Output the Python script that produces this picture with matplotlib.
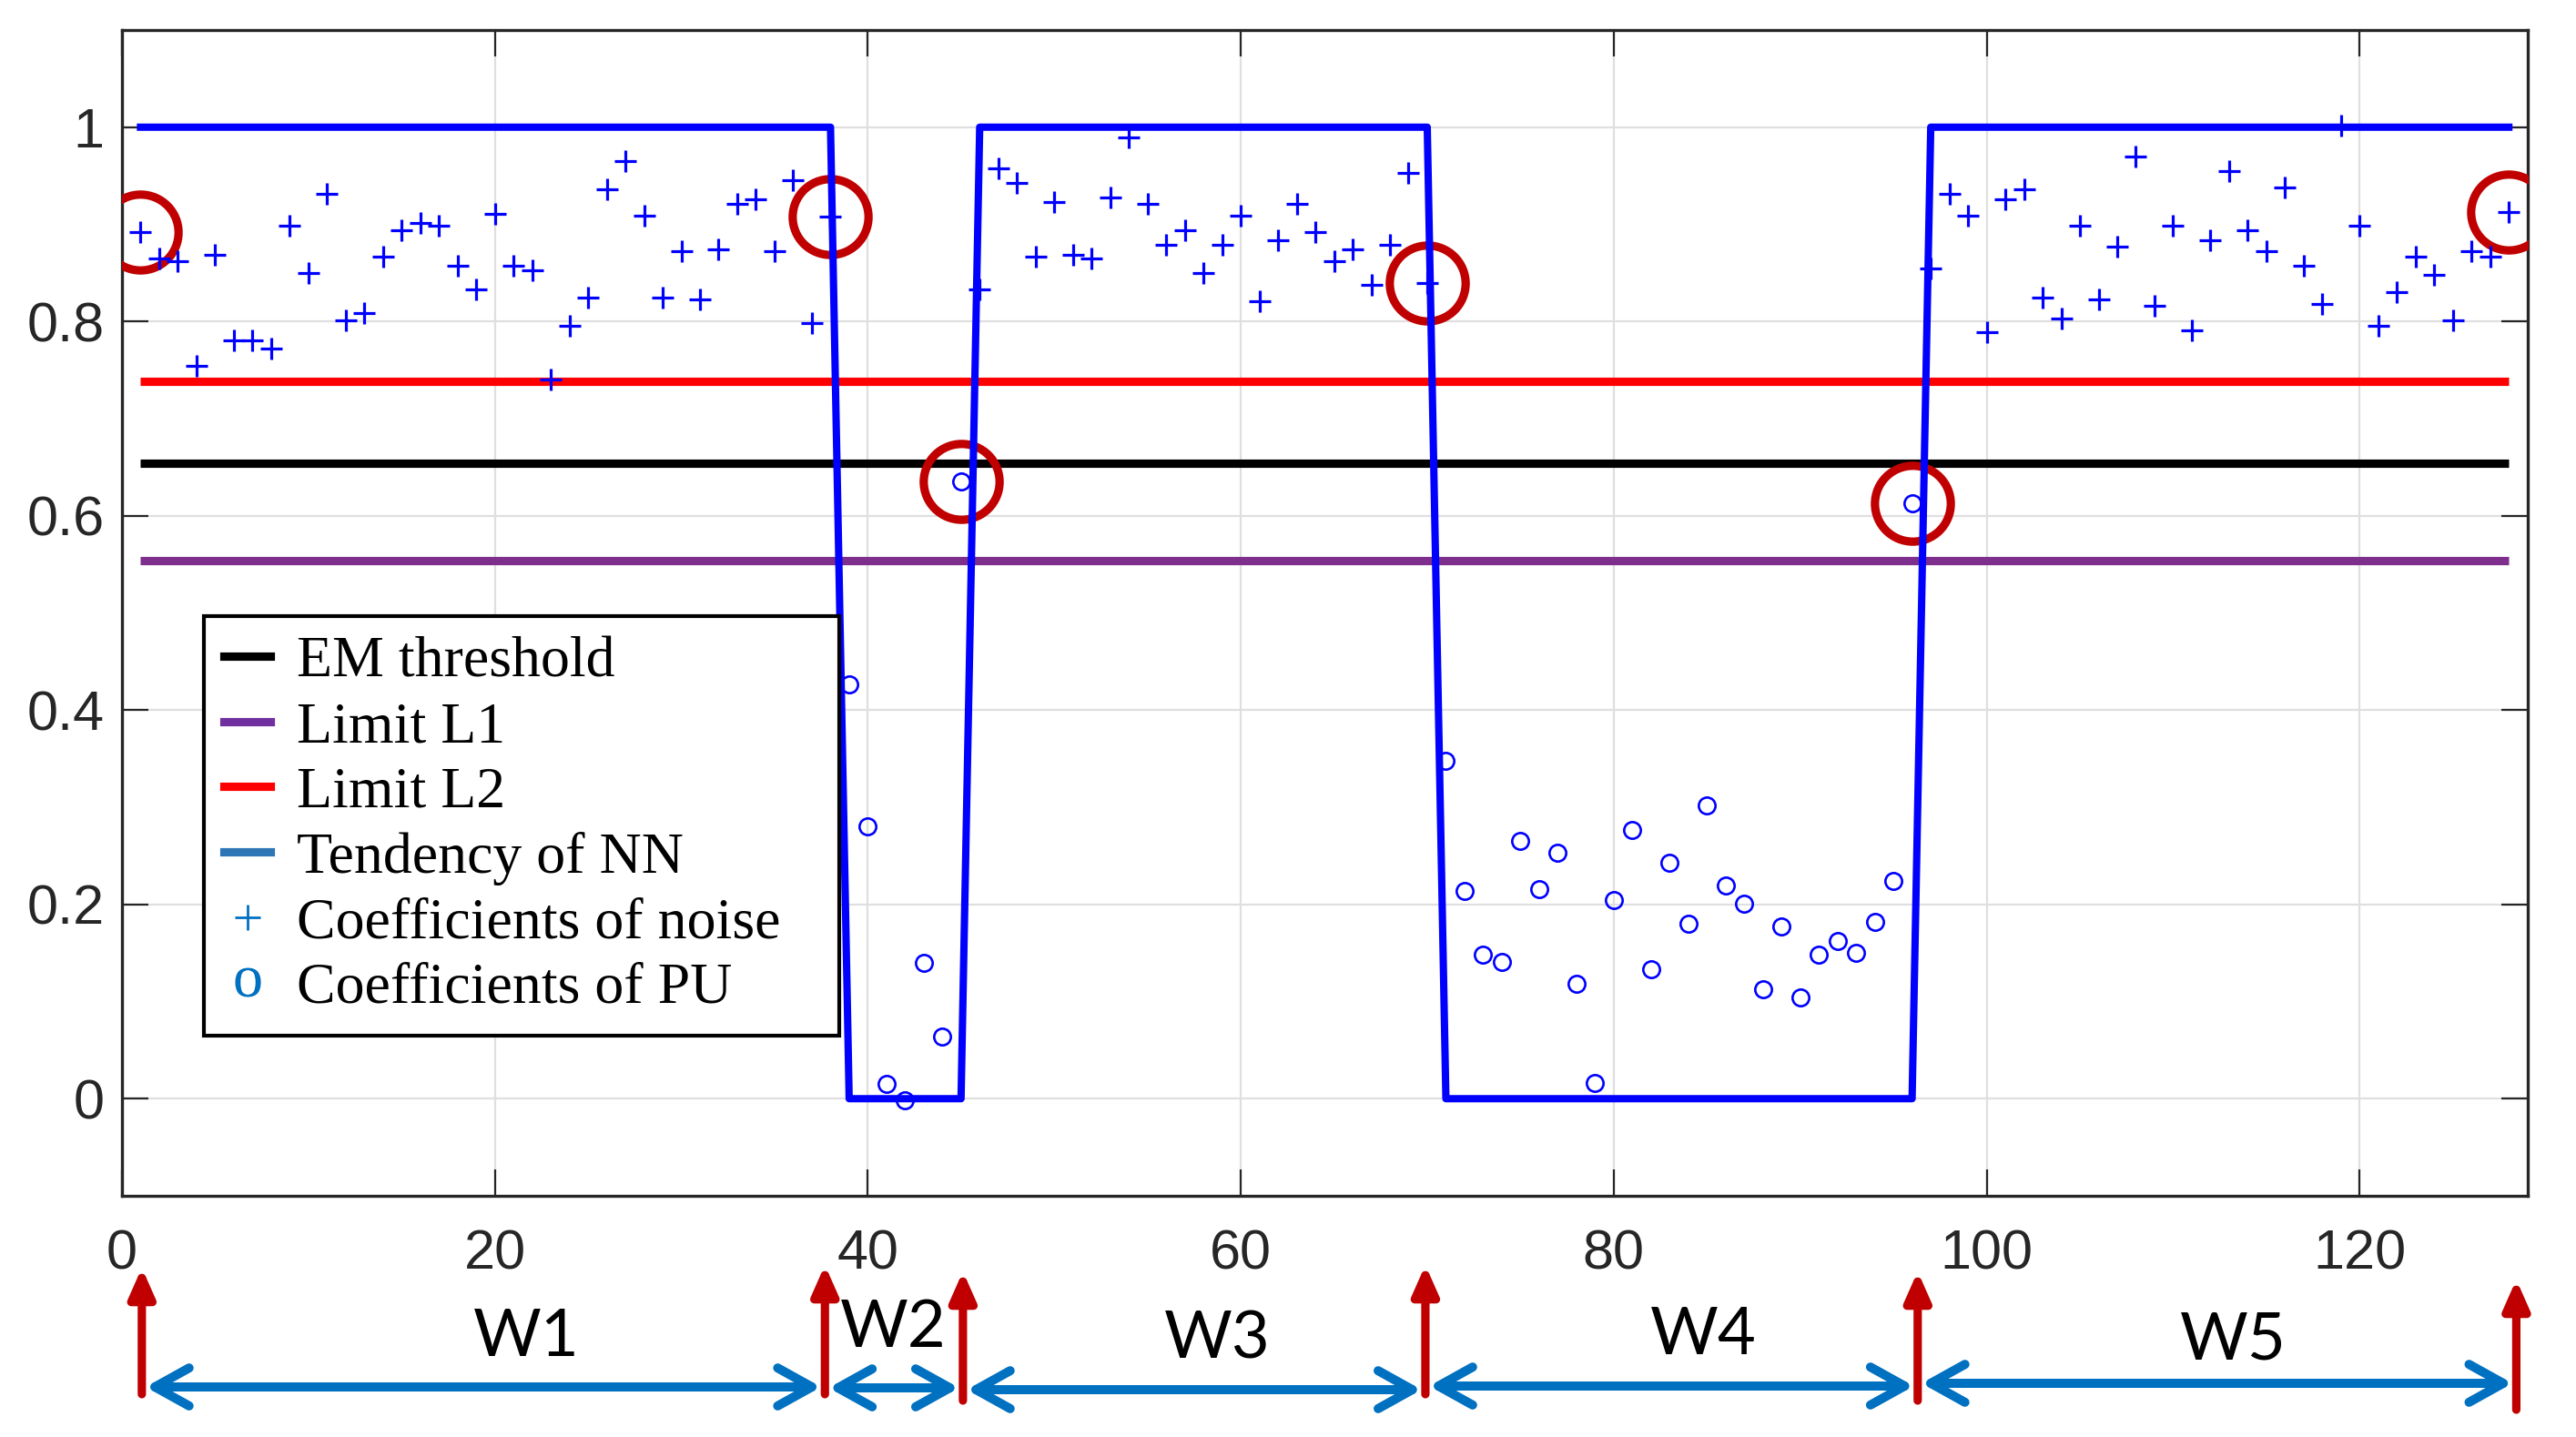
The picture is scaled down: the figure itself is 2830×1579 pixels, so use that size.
import matplotlib
matplotlib.use("Agg")
import matplotlib.pyplot as plt
import matplotlib.transforms as mtransforms
from matplotlib.lines import Line2D

# ---------------- data ----------------
noise_x = list(range(1, 39)) + list(range(46, 71)) + list(range(97, 129))
noise_y = [0.892, 0.865, 0.862, 0.754, 0.869, 0.781, 0.781, 0.772, 0.899, 0.850,
           0.931, 0.801, 0.809, 0.867, 0.894, 0.901, 0.899, 0.857, 0.833, 0.911,
           0.857, 0.853, 0.740, 0.796, 0.825, 0.936, 0.965, 0.909, 0.825, 0.872,
           0.823, 0.874, 0.921, 0.926, 0.872, 0.945, 0.798, 0.908,
           0.833, 0.958, 0.943, 0.867, 0.923, 0.869, 0.865, 0.928, 0.989, 0.921,
           0.879, 0.894, 0.850, 0.879, 0.909, 0.821, 0.884, 0.921, 0.892, 0.862,
           0.874, 0.838, 0.879, 0.953, 0.840,
           0.855, 0.931, 0.909, 0.789, 0.926, 0.936, 0.825, 0.803, 0.899, 0.823,
           0.877, 0.970, 0.816, 0.899, 0.791, 0.884, 0.955, 0.894, 0.872, 0.938,
           0.857, 0.818, 1.002, 0.899, 0.796, 0.830, 0.867, 0.848, 0.801, 0.872,
           0.867, 0.913]
pu_x = list(range(39, 46)) + list(range(71, 97))
pu_y = [0.426, 0.280, 0.015, -0.002, 0.140, 0.064, 0.635,
        0.348, 0.214, 0.148, 0.141, 0.265, 0.216, 0.253, 0.118, 0.016, 0.204,
        0.277, 0.133, 0.243, 0.180, 0.302, 0.219, 0.201, 0.113, 0.177, 0.104,
        0.148, 0.162, 0.150, 0.182, 0.224, 0.613]
em_threshold = 0.654
limit_l1 = 0.554
limit_l2 = 0.738
circled_idx = [1, 38, 45, 70, 96, 128]
boundaries = [1.07, 37.7, 45.1, 69.9, 96.3, 128.4]
window_labels = ["W1", "W2", "W3", "W4", "W5"]
xticks = [0, 20, 40, 60, 80, 100, 120]
yticks = [0, 0.2, 0.4, 0.6, 0.8, 1]

# tendency of NN: 1 where the sample is noise, 0 where it is PU
tend = {x: 1 for x in noise_x}
tend.update({x: 0 for x in pu_x})
tend_x = sorted(tend)
tend_y = [tend[x] for x in tend_x]
all_vals = dict(zip(noise_x, noise_y))
all_vals.update(dict(zip(pu_x, pu_y)))
circ_y = [all_vals[i] for i in circled_idx]

# ---------------- figure ----------------
W, H = 2830, 1579
DPI = 200
plt.rcParams["mathtext.fontset"] = "custom"
plt.rcParams["mathtext.rm"] = "Liberation Serif"
fig = plt.figure(figsize=(W / DPI, H / DPI), dpi=DPI)
ax = fig.add_axes([133.9 / W, 1 - 1314 / H, (2776.7 - 133.9) / W, (1314 - 33) / H])

SPINE = "#262626"
ax.set_xlim(0, 129)
ax.set_ylim(-0.1, 1.1)
ax.set_xticks(xticks)
ax.set_yticks(yticks)
ax.set_yticklabels(["0", "0.2", "0.4", "0.6", "0.8", "1"])
ax.grid(True, color="#dfdfdf", lw=0.8, zorder=0)
ax.set_axisbelow(True)
for s in ax.spines.values():
    s.set_color(SPINE)
    s.set_linewidth(1.2)
ax.tick_params(axis="both", direction="in", length=10.4, width=0.8, color=SPINE,
               labelcolor=SPINE, labelsize=22, top=True, right=True)
ax.tick_params(axis="x", pad=13)
ax.tick_params(axis="y", pad=7)
for lab in ax.get_xticklabels() + ax.get_yticklabels():
    lab.set_fontfamily("Liberation Sans")

xs = [tend_x[0], tend_x[-1]]
ax.plot(xs, [limit_l1] * 2, color="#7E2F8E", lw=3.3, zorder=3, solid_capstyle="butt")
ax.plot(xs, [em_threshold] * 2, color="black", lw=3.3, zorder=3, solid_capstyle="butt")
ax.plot(xs, [limit_l2] * 2, color="#FF0000", lw=3.3, zorder=3, solid_capstyle="butt")

ax.plot(circled_idx, circ_y, linestyle="none", marker="o", ms=30, mfc="none",
        mec="#C00000", mew=3.3, zorder=4)
ax.plot(tend_x, tend_y, color="#0000FF", lw=2.9, zorder=5)
ax.plot(noise_x, noise_y, linestyle="none", marker="+", ms=8.8, mew=1.15,
        color="#0000FF", zorder=6)
ax.plot(pu_x, pu_y, linestyle="none", marker="o", ms=6.6, mew=0.95, mfc="none",
        mec="#0000FF", zorder=6)

# legend
handles = [
    Line2D([], [], color="black", lw=3.3),
    Line2D([], [], color="#7030A0", lw=3.3),
    Line2D([], [], color="#FF0000", lw=3.3),
    Line2D([], [], color="#2E75B6", lw=3.3),
    Line2D([], [], color="#0070C0", ls="none", marker="+", ms=10, mew=1.0),
    Line2D([], [], color="#0070C0", ls="none", marker=r"$\mathrm{o}$", ms=11.5,
           mew=0),
]
labels = ["EM threshold", "Limit L1", "Limit L2", "Tendency of NN",
          "Coefficients of noise", "Coefficients of PU"]
leg_w = (922 - 224) / (2776.7 - 133.9)
leg_top = (1314 - 676.7) / (1314 - 33)
leg_h = (1128.3 - 676.7) / (1314 - 33)
leg = ax.legend(handles, labels, loc="upper left",
                bbox_to_anchor=(0.034, leg_top - leg_h, leg_w, leg_h), mode="expand",
                borderaxespad=0, prop={"family": "Liberation Serif", "size": 23},
                frameon=True, fancybox=False, edgecolor="black", framealpha=1,
                handlelength=0.8, handletextpad=0.45, labelspacing=0.2,
                borderpad=0.35)
leg.get_frame().set_linewidth(1.5)
leg.set_zorder(10)

# ---------------- annotations below the axes ----------------
trans = mtransforms.blended_transform_factory(ax.transData, fig.transFigure)
def fy(py):
    return 1 - py / H

tips = [1393, 1390, 1397, 1390, 1397, 1406]
bottoms = [1532, 1532, 1539, 1532, 1539, 1549]
for bx, t, b in zip(boundaries, tips, bottoms):
    ax.annotate("", xy=(bx, fy(t)), xytext=(bx, fy(b)), xycoords=trans,
                textcoords=trans, annotation_clip=False,
                arrowprops=dict(arrowstyle="-|>,head_length=0.95,head_width=0.42",
                                mutation_scale=10, color="#C00000", lw=3.3,
                                shrinkA=0, shrinkB=0))

arrow_py = [1524, 1525, 1527, 1523, 1520]
for i in range(5):
    x0 = boundaries[i] + 0.2
    x1 = boundaries[i + 1] - 0.2
    ax.annotate("", xy=(x1, fy(arrow_py[i])), xytext=(x0, fy(arrow_py[i])),
                xycoords=trans, textcoords=trans, annotation_clip=False,
                arrowprops=dict(arrowstyle="<->,head_length=1.35,head_width=0.75",
                                mutation_scale=10, color="#0070C0", lw=3.6,
                                shrinkA=0, shrinkB=0, capstyle="round",
                                joinstyle="round"))

label_x = [21.7, 41.35, 58.75, 84.8, 113.2]
label_py = [1470, 1460, 1472, 1468, 1473]
for lx, ly, t in zip(label_x, label_py, window_labels):
    ax.text(lx, fy(ly), t, transform=trans, ha="center", va="center",
            fontsize=26, family="Lato", color="black", clip_on=False)

fig.savefig("out.png", dpi=DPI)
